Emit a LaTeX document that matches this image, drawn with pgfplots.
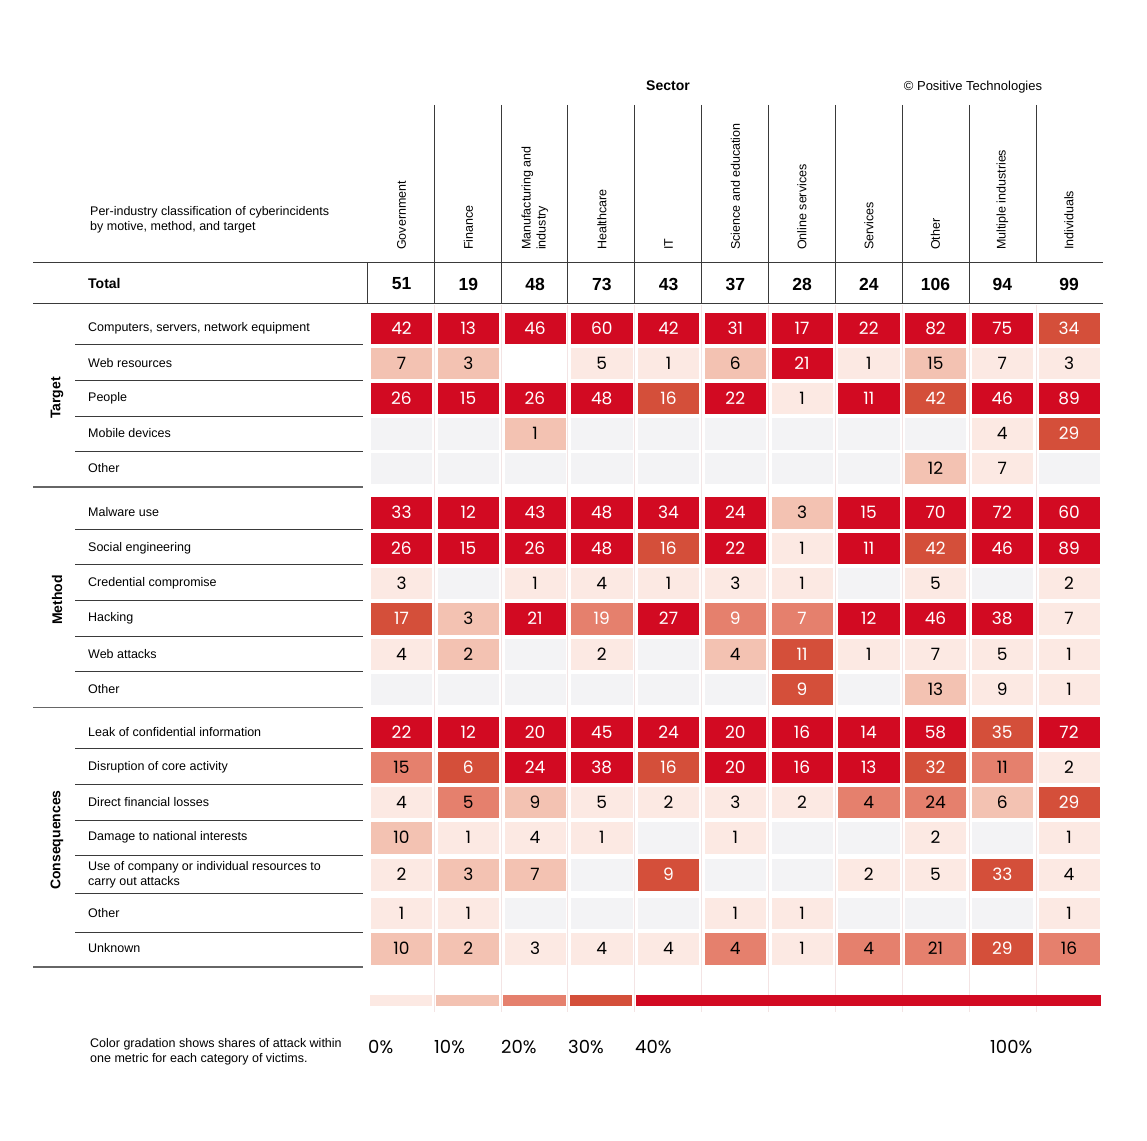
\documentclass[border=0pt]{standalone}
\usepackage{pgfplots}
\pgfplotsset{compat=1.18}
\usepackage{pgfplotstable}
\usepackage{fontspec}
\setmainfont{Liberation Sans}
\newfontfamily\numfont{Poppins}

\definecolor{cA}{HTML}{FCE9E3}
\definecolor{cB}{HTML}{F3C2B2}
\definecolor{cC}{HTML}{E5806D}
\definecolor{cD}{HTML}{D44F3A}
\definecolor{cE}{HTML}{D20A22}
\definecolor{cG}{HTML}{F3F3F5}
\definecolor{rule}{HTML}{3A3A3A}
\definecolor{faint}{HTML}{F3E4E4}

% i = sector column, y = row position (px from top), c = colour class (0 = no incidents),
% v = count, t = text colour (0 black, 1 white, 2 none)
\pgfplotstableread{
i y c v t
0 328 5 42 1
1 328 5 13 1
2 328 5 46 1
3 328 5 60 1
4 328 5 42 1
5 328 5 31 1
6 328 5 17 1
7 328 5 22 1
8 328 5 82 1
9 328 5 75 1
10 328 4 34 1
0 363 2 7 0
1 363 2 3 0
3 363 1 5 0
4 363 1 1 0
5 363 2 6 0
6 363 5 21 1
7 363 1 1 0
8 363 2 15 0
9 363 1 7 0
10 363 1 3 0
0 398 5 26 1
1 398 5 15 1
2 398 5 26 1
3 398 5 48 1
4 398 4 16 1
5 398 5 22 1
6 398 1 1 0
7 398 5 11 1
8 398 4 42 1
9 398 5 46 1
10 398 5 89 1
0 433.5 0 - 2
1 433.5 0 - 2
2 433.5 2 1 0
3 433.5 0 - 2
4 433.5 0 - 2
5 433.5 0 - 2
6 433.5 0 - 2
7 433.5 0 - 2
8 433.5 0 - 2
9 433.5 1 4 0
10 433.5 4 29 1
0 468 0 - 2
1 468 0 - 2
2 468 0 - 2
3 468 0 - 2
4 468 0 - 2
5 468 0 - 2
6 468 0 - 2
7 468 0 - 2
8 468 2 12 0
9 468 1 7 0
10 468 0 - 2
0 512.5 5 33 1
1 512.5 5 12 1
2 512.5 5 43 1
3 512.5 5 48 1
4 512.5 5 34 1
5 512.5 5 24 1
6 512.5 2 3 0
7 512.5 5 15 1
8 512.5 5 70 1
9 512.5 5 72 1
10 512.5 5 60 1
0 548 5 26 1
1 548 5 15 1
2 548 5 26 1
3 548 5 48 1
4 548 4 16 1
5 548 5 22 1
6 548 1 1 0
7 548 5 11 1
8 548 4 42 1
9 548 5 46 1
10 548 5 89 1
0 583 1 3 0
1 583 0 - 2
2 583 1 1 0
3 583 1 4 0
4 583 1 1 0
5 583 1 3 0
6 583 1 1 0
7 583 0 - 2
8 583 1 5 0
9 583 0 - 2
10 583 1 2 0
0 618.5 4 17 1
1 618.5 2 3 0
2 618.5 5 21 1
3 618.5 3 19 1
4 618.5 5 27 1
5 618.5 3 9 1
6 618.5 3 7 1
7 618.5 5 12 1
8 618.5 5 46 1
9 618.5 5 38 1
10 618.5 1 7 0
0 654 1 4 0
1 654 2 2 0
2 654 0 - 2
3 654 1 2 0
4 654 0 - 2
5 654 2 4 0
6 654 4 11 1
7 654 1 1 0
8 654 1 7 0
9 654 1 5 0
10 654 1 1 0
0 689 0 - 2
1 689 0 - 2
2 689 0 - 2
3 689 0 - 2
4 689 0 - 2
5 689 0 - 2
6 689 4 9 1
7 689 0 - 2
8 689 2 13 0
9 689 1 9 0
10 689 1 1 0
0 732 5 22 1
1 732 5 12 1
2 732 5 20 1
3 732 5 45 1
4 732 5 24 1
5 732 5 20 1
6 732 5 16 1
7 732 5 14 1
8 732 5 58 1
9 732 4 35 1
10 732 5 72 1
0 767 3 15 0
1 767 4 6 1
2 767 5 24 1
3 767 5 38 1
4 767 4 16 1
5 767 5 20 1
6 767 5 16 1
7 767 5 13 1
8 767 4 32 1
9 767 3 11 0
10 767 1 2 0
0 802 1 4 0
1 802 3 5 0
2 802 2 9 0
3 802 1 5 0
4 802 1 2 0
5 802 1 3 0
6 802 1 2 0
7 802 3 4 0
8 802 3 24 0
9 802 2 6 0
10 802 4 29 1
0 837.5 2 10 0
1 837.5 1 1 0
2 837.5 1 4 0
3 837.5 1 1 0
4 837.5 0 - 2
5 837.5 1 1 0
6 837.5 0 - 2
7 837.5 0 - 2
8 837.5 1 2 0
9 837.5 0 - 2
10 837.5 1 1 0
0 874.5 1 2 0
1 874.5 2 3 0
2 874.5 2 7 0
3 874.5 0 - 2
4 874.5 4 9 1
5 874.5 0 - 2
6 874.5 0 - 2
7 874.5 1 2 0
8 874.5 1 5 0
9 874.5 4 33 1
10 874.5 1 4 0
0 913 1 1 0
1 913 1 1 0
2 913 0 - 2
3 913 0 - 2
4 913 0 - 2
5 913 1 1 0
6 913 1 1 0
7 913 0 - 2
8 913 0 - 2
9 913 0 - 2
10 913 1 1 0
0 948.5 2 10 0
1 948.5 2 2 0
2 948.5 1 3 0
3 948.5 1 4 0
4 948.5 1 4 0
5 948.5 3 4 0
6 948.5 1 1 0
7 948.5 3 4 0
8 948.5 3 21 0
9 948.5 4 29 1
10 948.5 3 16 0
}\cells

\newcommand{\rowfont}{\fontsize{12.5}{15}\selectfont}

\begin{document}
\begin{tikzpicture}
\begin{axis}[
  x=1pt, y=1pt, y dir=reverse,
  xmin=0, xmax=1147, ymin=0, ymax=1140,
  hide axis, clip=false,
]
% faint column guides
\foreach \xx in {434.5,501,567.5,634.5,701,768,835,902,969,1036}{
  \edef\tmp{\noexpand\draw[faint, line width=0.8pt] (axis cs:\xx,305) -- (axis cs:\xx,1012);}\tmp
}

% cells
\addplot[scatter, only marks, scatter src=explicit symbolic,
  mark=square*, mark size=15.3pt, mark options={xscale=1.97, line width=0.4pt},
  scatter/classes={
    0={mark=square*, cG},
    1={mark=square*, cA},
    2={mark=square*, cB},
    3={mark=square*, cC},
    4={mark=square*, cD},
    5={mark=square*, cE}}]
  table[x expr=401.5+66.75*\thisrow{i}, y=y, meta=c] {\cells};

% white numbers
\addplot[only marks, mark=none, nodes near coords, point meta=explicit symbolic,
  every node near coord/.append style={anchor=center, inner sep=0pt, text=white,
    font=\numfont\fontsize{17}{17}\selectfont},
  restrict expr to domain={\thisrow{t}}{1:1}]
  table[x expr=401.5+66.75*\thisrow{i}, y=y, meta=v] {\cells};
% black numbers
\addplot[only marks, mark=none, nodes near coords, point meta=explicit symbolic,
  every node near coord/.append style={anchor=center, inner sep=0pt, text=black,
    font=\numfont\fontsize{17}{17}\selectfont},
  restrict expr to domain={\thisrow{t}}{0:0}]
  table[x expr=401.5+66.75*\thisrow{i}, y=y, meta=v] {\cells};

% colour scale
\addplot[fill=cA, draw=none] coordinates {(370,995) (432,995) (432,1006) (370,1006)} -- cycle;
\addplot[fill=cB, draw=none] coordinates {(436,995) (499,995) (499,1006) (436,1006)} -- cycle;
\addplot[fill=cC, draw=none] coordinates {(503,995) (566,995) (566,1006) (503,1006)} -- cycle;
\addplot[fill=cD, draw=none] coordinates {(570,995) (632,995) (632,1006) (570,1006)} -- cycle;
\addplot[fill=cE, draw=none] coordinates {(636,995) (1101,995) (1101,1006) (636,1006)} -- cycle;

% header rules
\draw[rule, line width=1pt] (axis cs:33,262) -- (axis cs:1103,262);
\draw[rule, line width=1pt] (axis cs:33,303) -- (axis cs:1103,303);
\draw[rule, line width=1pt] (axis cs:367.5,262) -- (axis cs:367.5,303);
\foreach \xx in {434.5,501,567.5,634.5,701,768,835,902,969}{
  \edef\tmp{\noexpand\draw[rule, line width=1pt] (axis cs:\xx,105) -- (axis cs:\xx,303);}\tmp
}
\draw[rule, line width=1pt] (axis cs:1036,105) -- (axis cs:1036,262);

% row rules
\foreach \yy in {344.5,380,416,451.5,529,564.5,600,636,671.5,748,784,820,855.5,893,932}{
  \edef\tmp{\noexpand\draw[rule, line width=1pt] (axis cs:75,\yy) -- (axis cs:363,\yy);}\tmp
}
\foreach \yy in {487,707.5,967}{
  \edef\tmp{\noexpand\draw[gray!80!black, line width=1.3pt] (axis cs:33,\yy) -- (axis cs:363,\yy);}\tmp
}

% header texts
\node[font=\bfseries\fontsize{14}{14}\selectfont] at (axis cs:668,86) {Sector};
\node[font=\fontsize{13}{13}\selectfont] at (axis cs:973,87) {© Positive Technologies};
\node[anchor=west, align=left, font=\rowfont, inner sep=0pt] at (axis cs:90,220)
  {Per-industry classification of cyberincidents\\by motive, method, and target};
\node[anchor=west, font=\bfseries\fontsize{14}{14}\selectfont, inner sep=0pt] at (axis cs:88,283) {Total};

\foreach \xx/\lab in {401.5/Government, 468.3/Finance, 601.8/Healthcare, 668.5/IT,
  735.3/Science and education, 802/Online services, 868.8/Services, 935.5/Other,
  1002.3/Multiple industries, 1069/Individuals}{
  \edef\tmp{\noexpand\node[rotate=90, anchor=west, inner sep=0pt, font=\noexpand\rowfont]
    at (axis cs:\xx,250) {\lab};}\tmp
}
\node[rotate=90, anchor=west, align=left, inner sep=0pt, font=\rowfont]
  at (axis cs:535,250) {Manufacturing and\\industry};

% totals
\foreach \xx/\tot in {401.5/51, 468.3/19, 535/48, 601.8/73, 668.5/43, 735.3/37,
  802/28, 868.8/24, 935.5/106, 1002.3/94, 1069/99}{
  \edef\tmp{\noexpand\node[font=\noexpand\bfseries\noexpand\fontsize{17.5}{17.5}\noexpand\selectfont, inner sep=0pt]
    at (axis cs:\xx,284) {\tot};}\tmp
}

% row labels
\foreach \yy/\lab in {328/{Computers, servers, network equipment}, 363/Web resources,
  398/People, 433.5/Mobile devices, 468/Other,
  512.5/Malware use, 548/Social engineering, 583/Credential compromise,
  618.5/Hacking, 654/Web attacks, 689/Other,
  732/Leak of confidential information, 767/Disruption of core activity,
  802/Direct financial losses, 837.5/Damage to national interests,
  913/Other, 948.5/Unknown}{
  \edef\tmp{\noexpand\node[anchor=west, inner sep=0pt, font=\noexpand\rowfont]
    at (axis cs:88,\yy) {\lab};}\tmp
}
\node[anchor=west, align=left, inner sep=0pt, font=\rowfont] at (axis cs:88,875)
  {Use of company or individual resources to\\carry out attacks};

% group labels
\node[rotate=90, font=\bfseries\fontsize{14}{14}\selectfont] at (axis cs:57,398) {Target};
\node[rotate=90, font=\bfseries\fontsize{14}{14}\selectfont] at (axis cs:57,600) {Method};
\node[rotate=90, font=\bfseries\fontsize{14}{14}\selectfont] at (axis cs:57,840) {Consequences};

% scale labels
\node[anchor=west, align=left, inner sep=0pt, font=\rowfont] at (axis cs:90,1052)
  {Color gradation shows shares of attack within\\one metric for each category of victims.};
\foreach \xx/\lab in {368/0\%, 434/10\%, 501/20\%, 568/30\%, 635/40\%, 990/100\%}{
  \edef\tmp{\noexpand\node[anchor=west, inner sep=0pt,
    font=\noexpand\numfont\noexpand\fontsize{18}{18}\noexpand\selectfont]
    at (axis cs:\xx,1047) {\lab};}\tmp
}
\end{axis}
\pgfresetboundingbox
\path (current axis.south west) rectangle (current axis.north east);
\end{tikzpicture}
\end{document}
